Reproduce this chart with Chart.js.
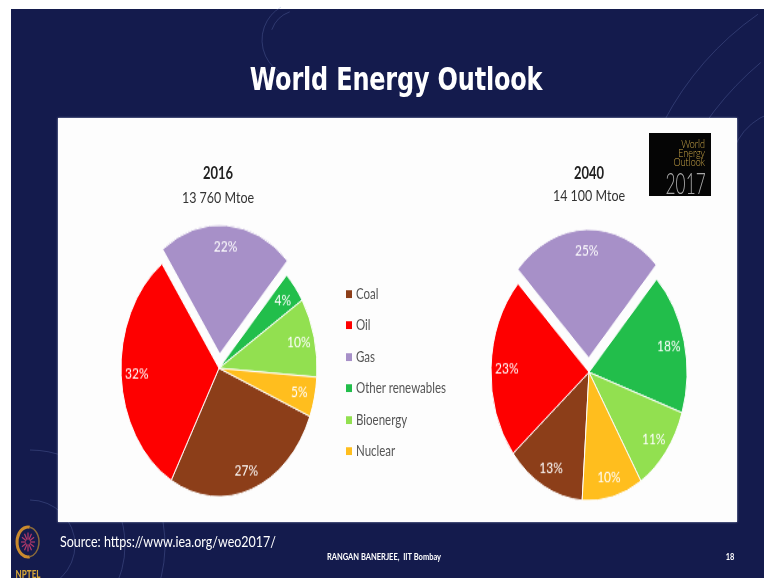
<!DOCTYPE html>
<html>
<head>
<meta charset="utf-8">
<title>World Energy Outlook</title>
<script src="https://cdn.jsdelivr.net/npm/chart.js@4.4.1/dist/chart.umd.min.js"></script>
<style>
  html, body { margin: 0; padding: 0; }
  body {
    width: 764px; height: 578px; position: relative; overflow: hidden;
    background: #fff; font-family: Lato, "Open Sans", sans-serif;
  }
  #slide { position: absolute; left: 11px; top: 9px; width: 753px; height: 569px; background: #141b4d; }
  #deco { position: absolute; left: 0; top: 0; }
  #panel {
    position: absolute; left: 58px; top: 118px; width: 679px; height: 404px;
    background: #fdfdfd; box-shadow: 0 0 2px rgba(200, 205, 230, 0.8);
  }
  .txt { position: absolute; white-space: nowrap; transform: translate(-50%, -50%) scaleY(1.3); }
  .pie { position: absolute; transform: scaleY(1.31); transform-origin: 0 0; }
  #title { left: 396px; top: 80px; color: #fff; font: bold 24px "DejaVu Sans", sans-serif; letter-spacing: -0.2px; }
  .year { font-weight: bold; font-size: 13px; color: #222; }
  .total { font-size: 12.5px; color: #333; }
  #legend { position: absolute; left: 346px; top: 287px; }
  .lg-row {
    position: absolute; left: 0; white-space: nowrap; font-size: 11.5px; color: #555;
    transform: scaleY(1.3); transform-origin: 0 50%;
  }
  .lg-box { display: inline-block; width: 6px; height: 6px; margin-right: 4px; vertical-align: 1px; }
  #logo { position: absolute; left: 649px; top: 133px; width: 62px; height: 63px; background: #050505; }
  .logo-word { position: absolute; right: 6px; color: #c9a548; font-size: 9px; font-weight: 300; line-height: 9px; transform: scaleY(1.2); transform-origin: 100% 50%; }
  #logo-year { position: absolute; right: 5px; top: 35px; color: #a8a8a8; font: 300 24px Lato, sans-serif; transform: scale(0.72, 1.25); transform-origin: 100% 50%; }
  #source { left: 168px; top: 541px; color: #fff; font-size: 12.5px; }
  #footer { left: 384px; top: 557px; color: #fff; font-size: 7.5px; font-weight: bold; }
  #page { left: 730px; top: 557px; color: #fff; font-size: 7.5px; font-weight: bold; }
  #nptel { left: 28px; top: 574px; color: #d4a53a; font-size: 8px; font-weight: 900; }
</style>
</head>
<body>
<div id="slide"></div>
<canvas id="deco" width="764" height="578"></canvas>
<div id="panel"></div>

<div id="title" class="txt">World Energy Outlook</div>

<div class="txt year" style="left:218px; top:172px;">2016</div>
<div class="txt total" style="left:218px; top:197px;">13 760 Mtoe</div>
<div class="txt year" style="left:589px; top:172px;">2040</div>
<div class="txt total" style="left:589px; top:195px;">14 100 Mtoe</div>

<div class="pie" style="left:98.5px; top:210.8px;"><canvas id="pie2016" width="240" height="240"></canvas></div>
<div class="pie" style="left:469px; top:214.8px;"><canvas id="pie2040" width="240" height="240"></canvas></div>

<div id="legend"></div>

<div id="logo">
  <div class="logo-word" style="top:6px;">World</div>
  <div class="logo-word" style="top:15px;">Energy</div>
  <div class="logo-word" style="top:24px;">Outlook</div>
  <div id="logo-year">2017</div>
</div>

<div id="source" class="txt">Source: https://www.iea.org/weo2017/</div>
<div id="footer" class="txt">RANGAN BANERJEE,&nbsp; IIT Bombay</div>
<div id="page" class="txt">18</div>
<div id="nptel" class="txt">NPTEL</div>

<script>
// Fuel shares of total primary energy demand (%)
const fuels = ['Coal', 'Oil', 'Gas', 'Other renewables', 'Bioenergy', 'Nuclear'];
const fuelColors = ['#8c3e19', '#fe0000', '#a790c8', '#22be4b', '#92e050', '#ffbe1e'];
const share2016 = [27, 32, 22, 4, 10, 5];
const share2040 = [13, 23, 25, 18, 11, 10];
// Gas is pulled out of both pies (Chart.js moves an arc by offset / 4)
const sliceOffset = [0, 0, 44, 0, 0, 0];

// Percent labels drawn inside each slice
const sliceLabels = {
    id: 'sliceLabels',
    afterDatasetsDraw(chart) {
        const ctx = chart.ctx;
        const meta = chart.getDatasetMeta(0);
        const values = chart.data.datasets[0].data;
        ctx.save();
        ctx.font = '12px Lato, sans-serif';
        ctx.fillStyle = '#fff';
        ctx.textAlign = 'center';
        ctx.textBaseline = 'middle';
        meta.data.forEach((arc, i) => {
            const p = arc.getProps(['x', 'y', 'startAngle', 'endAngle', 'outerRadius'], true);
            const mid = (p.startAngle + p.endAngle) / 2;
            const d = p.outerRadius * 0.84 + (arc.options.offset || 0) / 4;
            ctx.fillText(values[i] + '%', p.x + Math.cos(mid) * d, p.y + Math.sin(mid) * d);
        });
        ctx.restore();
    }
};

function makePie(id, values, rotation) {
    const ctx = document.getElementById(id).getContext('2d');
    return new Chart(ctx, {
        type: 'pie',
        data: {
            labels: fuels,
            datasets: [{
                data: values,
                backgroundColor: fuelColors,
                borderColor: '#fdfdfd',
                borderWidth: 1,
                offset: sliceOffset
            }]
        },
        options: {
            responsive: false,
            animation: false,
            radius: 98,
            rotation: rotation,
            layout: { padding: 0 },
            plugins: {
                legend: { display: false },
                tooltip: { enabled: false }
            }
        },
        plugins: [sliceLabels]
    });
}

makePie('pie2016', share2016, 112);
makePie('pie2040', share2040, 184);

// Legend between the two pies
const legend = document.getElementById('legend');
fuels.forEach((name, i) => {
    const row = document.createElement('div');
    row.className = 'lg-row';
    row.style.top = (i * 31.4) + 'px';
    row.innerHTML = `<span class="lg-box" style="background:${fuelColors[i]}"></span>${name}`;
    legend.appendChild(row);
});

// Background ornaments: faint arcs and the NPTEL wheel
function drawDeco() {
    const c = document.getElementById('deco').getContext('2d');
    c.lineWidth = 1;
    c.strokeStyle = 'rgba(120, 135, 200, 0.28)';
    const arc = (x, y, r, a0, a1) => {
        c.beginPath();
        c.arc(x, y, r, a0 * Math.PI / 180, a1 * Math.PI / 180);
        c.stroke();
    };
    arc(300, 40, 38, 110, 240);
    arc(300, 40, 30, 200, 250);
    arc(930, 260, 300, 180, 235);
    arc(960, 300, 310, 180, 230);
    arc(790, 170, 60, 180, 260);
    arc(30, 545, 45, 270, 450);
    arc(30, 545, 95, 270, 420);
    arc(30, 545, 135, 300, 400);

    // NPTEL wheel
    const cx = 28, cy = 542;
    c.lineWidth = 3;
    c.strokeStyle = '#c98a2e';
    c.beginPath();
    c.ellipse(cx, cy, 11, 15, 0, Math.PI * 0.45, Math.PI * 1.55);
    c.stroke();
    c.strokeStyle = '#8a6a3a';
    c.lineWidth = 1.5;
    c.beginPath();
    c.ellipse(cx, cy, 11, 15, 0, Math.PI * 1.55, Math.PI * 2.45);
    c.stroke();
    c.strokeStyle = '#b23a6a';
    c.lineWidth = 1.2;
    for (let k = 0; k < 12; k++) {
        const a = k * Math.PI / 6;
        c.beginPath();
        c.moveTo(cx + Math.cos(a) * 2, cy + Math.sin(a) * 2.6);
        c.lineTo(cx + Math.cos(a) * 7, cy + Math.sin(a) * 9.5);
        c.stroke();
    }
}
drawDeco();
</script>
</body>
</html>
